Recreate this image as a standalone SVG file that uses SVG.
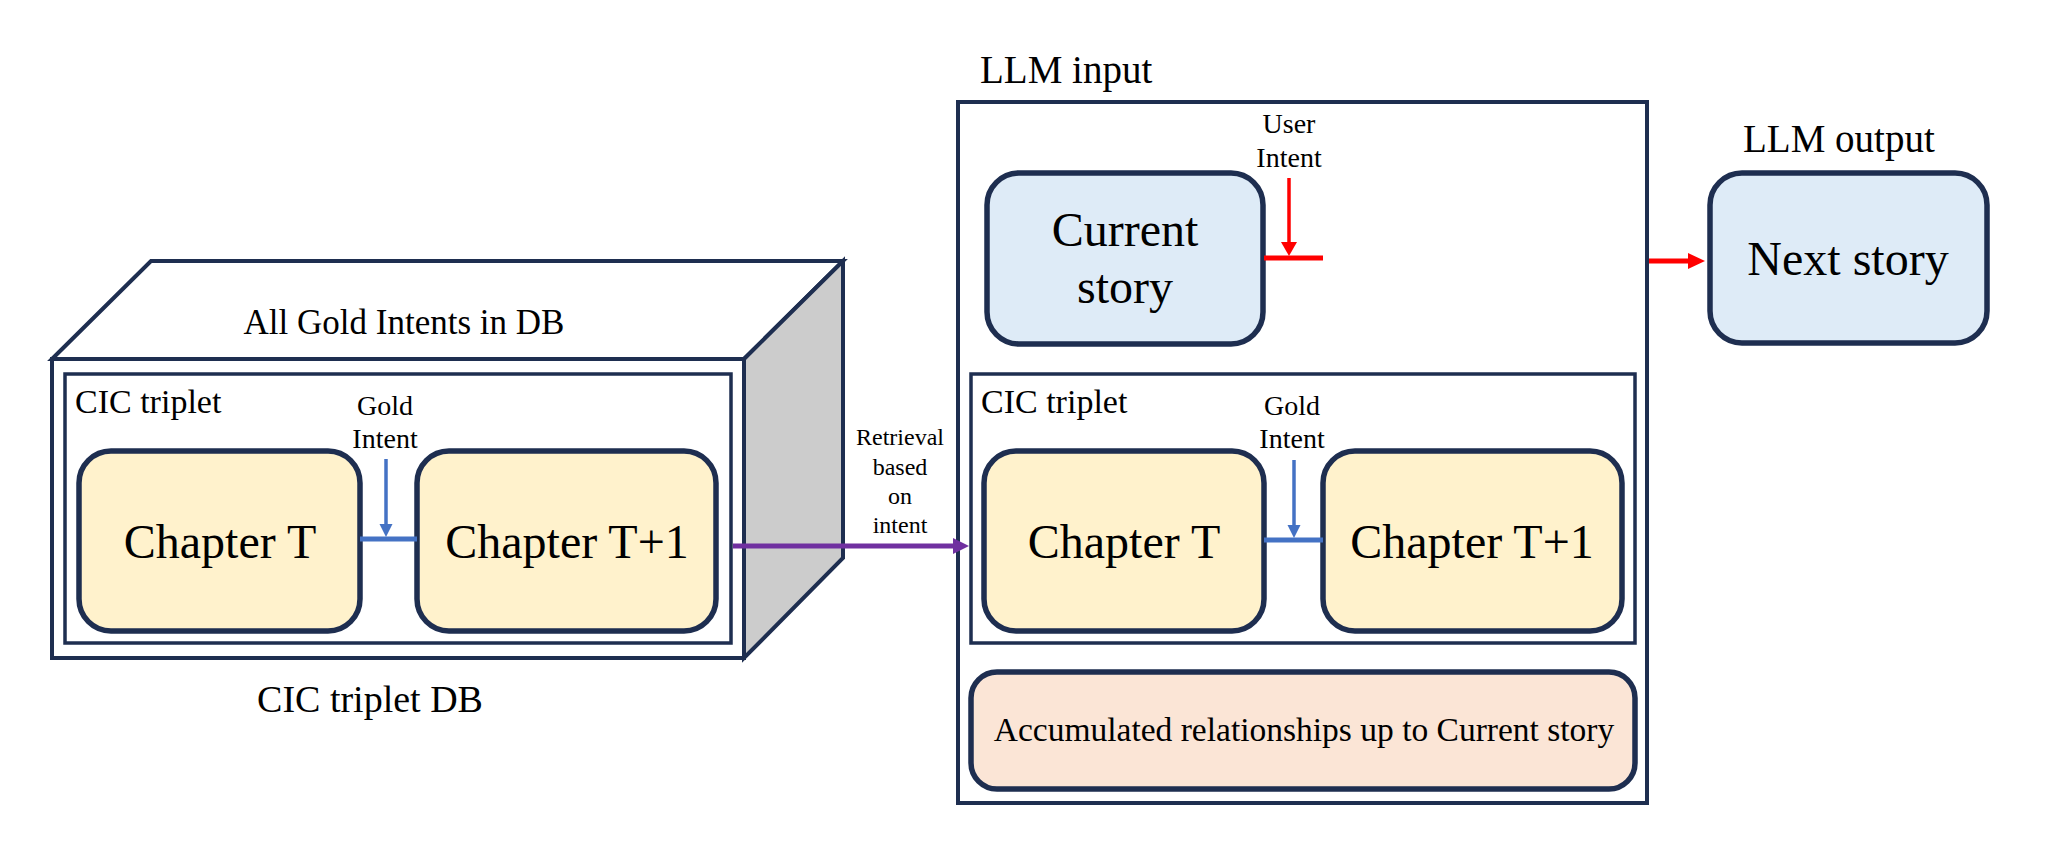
<svg xmlns="http://www.w3.org/2000/svg" width="2059" height="862" viewBox="0 0 2059 862">
<style>
text{font-family:"Liberation Serif","Times New Roman",serif;fill:#000}
.frame{fill:#fff;stroke:#1E2E50;stroke-width:4}
.inner{fill:#fff;stroke:#1E2E50;stroke-width:3.5}
.box{stroke:#1E2E50;stroke-width:5.5}
.chap{fill:#FFF2CC}
.blue{fill:#DEEBF7}
.peach{fill:#FBE5D6}
.side{fill:#CCCCCC;stroke:#1E2E50;stroke-width:4;stroke-linejoin:miter}
.c48{font-size:48px}
.c39{font-size:39px}
.c35{font-size:35px}
.c28{font-size:28px}
.c24{font-size:24px}
.mid{text-anchor:middle}
</style>
<defs>
<marker id="hPurple" markerUnits="userSpaceOnUse" markerWidth="17" markerHeight="18" refX="0" refY="9" orient="auto">
<path d="M0,1 L16,9 L0,17 z" fill="#7030A0"/>
</marker>
<marker id="hRed" markerUnits="userSpaceOnUse" markerWidth="18" markerHeight="18" refX="0" refY="9" orient="auto">
<path d="M0,1 L17,9 L0,17 z" fill="#FF0000"/>
</marker>
<marker id="hRedDown" markerUnits="userSpaceOnUse" markerWidth="15" markerHeight="18" refX="0" refY="9" orient="auto">
<path d="M0,1 L14,9 L0,17 z" fill="#FF0000"/>
</marker>
<marker id="hBlue" markerUnits="userSpaceOnUse" markerWidth="14" markerHeight="14" refX="0" refY="7" orient="auto">
<path d="M0,0.5 L13,7 L0,13.5 z" fill="#4472C4"/>
</marker>
</defs>

<g id="db-cube">
<polygon class="frame" points="52,359 151,261 843,261 744,359"/>
<polygon class="side" points="744,359 843,261 843,558 744,658"/>
<rect class="frame" x="52" y="359" width="692" height="299"/>
<text class="c35 mid" x="404" y="334">All Gold Intents in DB</text>
<text class="c39 mid" x="370" y="712" style="font-size:38px">CIC triplet DB</text>
</g>

<g id="db-triplet">
<rect class="inner" x="65" y="374" width="666" height="269"/>
<text class="c35" x="75" y="413" style="font-size:34px">CIC triplet</text>
<text class="c28 mid" x="385" y="415">Gold</text>
<text class="c28 mid" x="385" y="448">Intent</text>
</g>

<g id="db-chapter-t">
<rect class="box chap" x="79" y="451" width="281" height="180" rx="32"/>
<text class="c48 mid" x="220" y="558">Chapter T</text>
</g>

<g id="db-chapter-t1">
<rect class="box chap" x="417" y="451" width="299" height="180" rx="32"/>
<text class="c48 mid" x="567" y="558">Chapter T+1</text>
</g>

<g id="retrieval-label">
<text class="c24 mid" x="900" y="445">Retrieval</text>
<text class="c24 mid" x="900" y="475">based</text>
<text class="c24 mid" x="900" y="504">on</text>
<text class="c24 mid" x="900" y="533">intent</text>
</g>

<g id="llm-input">
<text class="c39" x="980" y="83">LLM input</text>
<rect class="frame" x="958" y="102" width="689" height="701"/>
</g>

<g id="current-story">
<rect class="box blue" x="987" y="173" width="276" height="171" rx="32"/>
<text class="c48 mid" x="1125" y="246">Current</text>
<text class="c48 mid" x="1125" y="303">story</text>
</g>

<g id="user-intent">
<text class="c28 mid" x="1289" y="133">User</text>
<text class="c28 mid" x="1289" y="167">Intent</text>
</g>

<g id="llm-triplet">
<rect class="inner" x="971" y="374" width="664" height="269"/>
<text class="c35" x="981" y="413" style="font-size:34px">CIC triplet</text>
<text class="c28 mid" x="1292" y="415">Gold</text>
<text class="c28 mid" x="1292" y="448">Intent</text>
</g>

<g id="llm-chapter-t">
<rect class="box chap" x="984" y="451" width="280" height="180" rx="32"/>
<text class="c48 mid" x="1124" y="558">Chapter T</text>
</g>

<g id="llm-chapter-t1">
<rect class="box chap" x="1323" y="451" width="299" height="180" rx="32"/>
<text class="c48 mid" x="1472" y="558">Chapter T+1</text>
</g>

<g id="accumulated">
<rect class="box peach" x="971" y="672" width="664" height="117" rx="26"/>
<text class="mid" x="1304" y="741" style="font-size:33.5px">Accumulated relationships up to Current story</text>
</g>

<g id="llm-output">
<text class="c39" x="1743" y="152">LLM output</text>
</g>

<g id="next-story">
<rect class="box blue" x="1710" y="173" width="277" height="170" rx="32"/>
<text class="c48 mid" x="1848" y="275">Next story</text>
</g>

<g id="connectors" fill="none">
<line x1="360" y1="539" x2="417" y2="539" stroke="#4472C4" stroke-width="5"/>
<line x1="386" y1="459" x2="386" y2="524" stroke="#4472C4" stroke-width="3.5" marker-end="url(#hBlue)"/>
<line x1="1264" y1="540" x2="1323" y2="540" stroke="#4472C4" stroke-width="5"/>
<line x1="1294" y1="460" x2="1294" y2="525" stroke="#4472C4" stroke-width="3.5" marker-end="url(#hBlue)"/>
<line x1="733" y1="546" x2="953" y2="546" stroke="#7030A0" stroke-width="5" marker-end="url(#hPurple)"/>
<line x1="1264" y1="258" x2="1323" y2="258" stroke="#FF0000" stroke-width="5"/>
<line x1="1289" y1="178" x2="1289" y2="242" stroke="#FF0000" stroke-width="3.5" marker-end="url(#hRedDown)"/>
<line x1="1649" y1="261" x2="1688" y2="261" stroke="#FF0000" stroke-width="5" marker-end="url(#hRed)"/>
</g>
</svg>
